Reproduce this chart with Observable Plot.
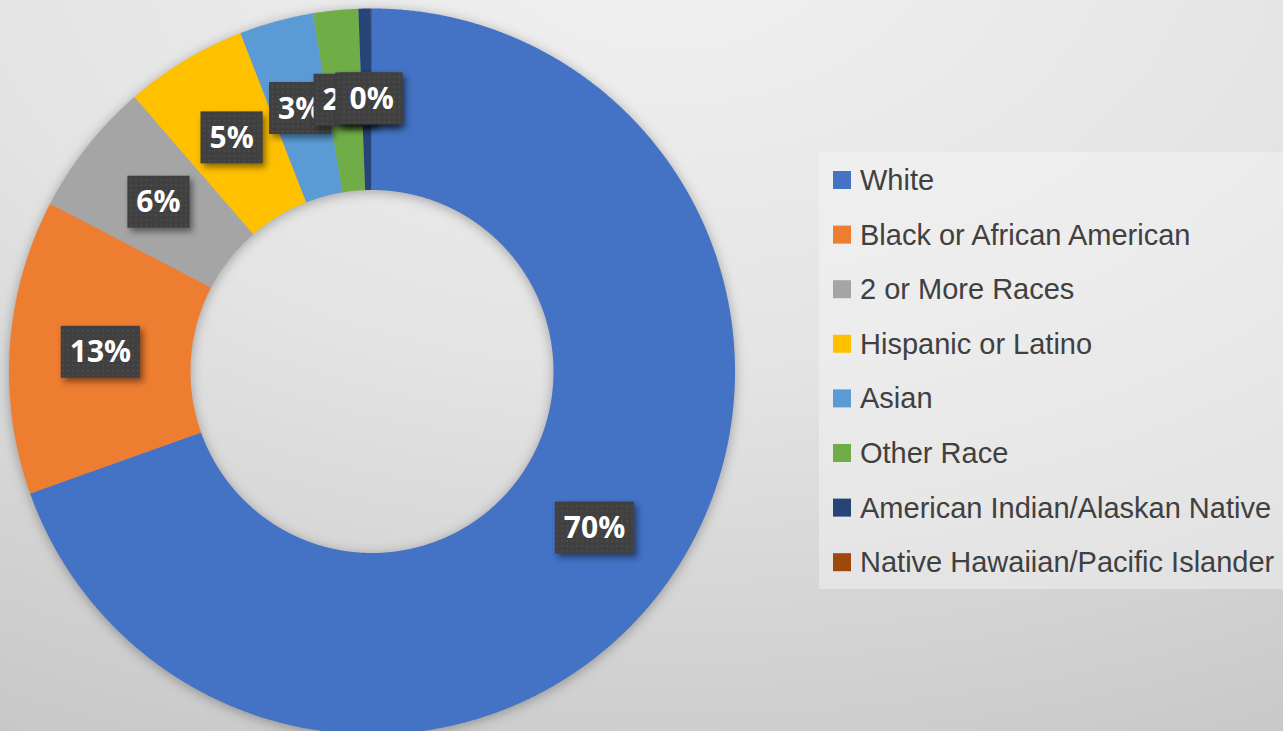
<!DOCTYPE html>
<html>
<head>
<meta charset="utf-8">
<script src="https://cdn.jsdelivr.net/npm/d3@7"></script>
<script src="https://cdn.jsdelivr.net/npm/@observablehq/plot@0.6"></script>
<style>
  html, body { margin: 0; padding: 0; width: 1283px; height: 731px; overflow: hidden; }
  body {
    position: relative;
    background: radial-gradient(ellipse 120% 130% at 52% -8%, #f1f1f1 0%, #e4e4e4 45%, #c4c4c4 100%);
  }
  #chart { position: absolute; left: 0; top: 0; }
  #legend { position: absolute; left: 819px; top: 152px; }
  .donut { filter: drop-shadow(0px 2px 6px rgba(0,0,0,0.30)); }
  .labelbox { filter: drop-shadow(3px 4px 3px rgba(0,0,0,0.45)); }
</style>
</head>
<body>
<div id="chart"></div>
<div id="legend"></div>
<script>
// ---- data ----
const races = [
  "White",
  "Black or African American",
  "2 or More Races",
  "Hispanic or Latino",
  "Asian",
  "Other Race",
  "American Indian/Alaskan Native",
  "Native Hawaiian/Pacific Islander"
];
const shares = [69.55, 13.1, 6.0, 5.45, 3.3, 2.0, 0.55, 0.05];
const labelTexts = ["70%", "13%", "6%", "5%", "3%", "2%", "0%", "0%"];
const colors = ["#4472C4", "#ED7D31", "#A5A5A5", "#FFC000", "#5B9BD5", "#70AD47", "#264478", "#9E480E"];

// ---- geometry built from the data ----
const innerRatio = 0.5;
const total = d3.sum(shares);
const cum = d3.cumsum(shares);
const slices = races.map((race, i) => ({
  race,
  a0: ((cum[i] - shares[i]) / total) * 2 * Math.PI,
  a1: (cum[i] / total) * 2 * Math.PI,
  label: labelTexts[i]
}));
const ringPoints = [];
for (const s of slices) {
  const n = Math.max(2, Math.ceil((s.a1 - s.a0) / (Math.PI / 720)));
  const angles = d3.range(n + 1).map(k => s.a0 + (s.a1 - s.a0) * k / n);
  for (const a of angles) ringPoints.push({race: s.race, x: Math.sin(a), y: Math.cos(a)});
  for (const a of angles.slice().reverse()) ringPoints.push({race: s.race, x: innerRatio * Math.sin(a), y: innerRatio * Math.cos(a)});
}
const labelRadius = (1 + innerRatio) / 2;
const labelPoints = slices.map(s => {
  const m = (s.a0 + s.a1) / 2;
  return {race: s.race, label: s.label, x: labelRadius * Math.sin(m), y: labelRadius * Math.cos(m)};
});

// ---- chart ----
const cx = 371.5, cy = 371, R = 363;
const chart = Plot.plot({
  width: 1283,
  height: 731,
  margin: 0,
  style: {background: "transparent", overflow: "hidden"},
  x: {domain: [-1, 1], range: [cx - R, cx + R], axis: null},
  y: {domain: [-1, 1], range: [cy + R, cy - R], axis: null},
  color: {domain: races, range: colors},
  marks: [
    Plot.line(ringPoints, {x: "x", y: "y", z: "race", fill: "race", stroke: "none", className: "donut"}),
    Plot.text(labelPoints, {
      x: "x", y: "y", text: "label", fill: "white",
      fontSize: 30, fontWeight: "bold", fontFamily: "Open Sans",
      className: "dlabel"
    })
  ]
});
document.getElementById("chart").appendChild(chart);

// pattern for the label boxes
const svg = d3.select(chart);
const defs = svg.insert("defs", ":first-child");
const pat = defs.append("pattern").attr("id", "dots").attr("width", 5).attr("height", 5).attr("patternUnits", "userSpaceOnUse");
pat.append("rect").attr("width", 5).attr("height", 5).attr("fill", "#404040");
pat.append("rect").attr("x", 2).attr("y", 2).attr("width", 1.3).attr("height", 1.3).attr("fill", "#575757");

// boxes behind each data label (drawn in order, so later labels cover earlier ones)
chart.querySelectorAll(".dlabel text").forEach(t => {
  const b = t.getBBox();
  const mid = b.y + b.height / 2 + 1;
  const r = document.createElementNS("http://www.w3.org/2000/svg", "rect");
  r.setAttribute("x", b.x - 9);
  r.setAttribute("y", mid - 26);
  r.setAttribute("width", b.width + 18);
  r.setAttribute("height", 52);
  r.setAttribute("fill", "url(#dots)");
  r.setAttribute("class", "labelbox");
  const tr = t.getAttribute("transform");
  if (tr) r.setAttribute("transform", tr);
  t.parentNode.insertBefore(r, t);
});

// ---- legend ----
const color = chart.scale("color");
const lw = 464, lh = 437, rowStep = 54.6;
const leg = d3.select("#legend").append("svg").attr("width", lw).attr("height", lh);
leg.append("rect").attr("width", lw).attr("height", lh).attr("fill", "rgba(246,246,246,0.45)");
const rows = leg.selectAll("g").data(races).join("g")
  .attr("transform", (d, i) => `translate(14, ${19 + i * rowStep})`);
rows.append("rect").attr("width", 18).attr("height", 18).attr("fill", d => color.apply(d));
rows.append("text").attr("x", 27).attr("y", 19)
  .attr("font-family", "'Liberation Sans', Arial, sans-serif")
  .attr("font-size", 29).attr("fill", "#404040").text(d => d);
</script>
</body>
</html>
